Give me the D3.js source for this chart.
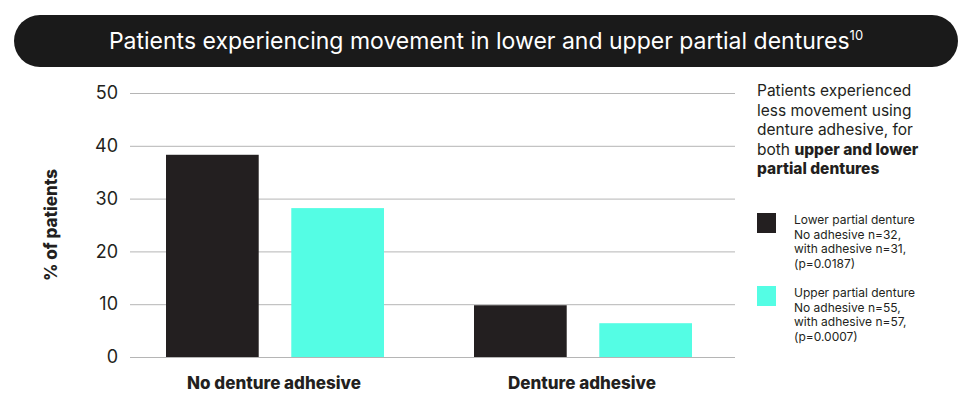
<!DOCTYPE html>
<html><head><meta charset="utf-8">
<script src="https://cdn.jsdelivr.net/npm/d3@7"></script>
<style>body{margin:0;background:#fff}svg{display:block;font-family:Inter,"Noto Sans",sans-serif}</style>
</head><body><svg id="c" width="970" height="416"></svg>
<script>
const categories = ["No denture adhesive", "Denture adhesive"];
const seriesNames = ["Lower partial denture", "Upper partial denture"];
const lowerValues = [38.3, 9.8];
const upperValues = [28.2, 6.4];
const yTicks = [0, 10, 20, 30, 40, 50];
const colors = ["#231f20", "#54fde4"];
const legendText = [
  ["Lower partial denture", "No adhesive n=32,", "with adhesive n=31,", "(p=0.0187)"],
  ["Upper partial denture", "No adhesive n=55,", "with adhesive n=57,", "(p=0.0007)"]
];

const svg = d3.select("#c");
svg.append("rect").attr("x",14).attr("y",15).attr("width",944).attr("height",52).attr("rx",26).attr("fill","#1a1a1a");
const t = svg.append("text").attr("x",486).attr("y",49).attr("text-anchor","middle").attr("fill","#fff").attr("font-size",23);
t.append("tspan").text("Patients experiencing movement in lower and upper partial dentures");
t.append("tspan").attr("font-size",13).attr("dy",-9).text("10");

const y = d3.scaleLinear().domain([0,50]).range([357,93]);
const x0 = d3.scaleBand().domain(categories).range([120,736]);
const x1 = d3.scaleBand().domain(seriesNames).range([46,264]).paddingInner(0.26);

const ya = svg.append("g").attr("transform","translate(130,0)")
  .call(d3.axisLeft(y).tickValues(yTicks).tickSize(-605).tickPadding(12));
ya.select(".domain").remove();
ya.selectAll("line").attr("stroke","#b5b5b5");
ya.selectAll("text").attr("font-size",18).attr("fill","#231f20").attr("font-family","Inter,sans-serif");

const data = categories.map((c,i)=>({c, vals:[lowerValues[i], upperValues[i]]}));
const g = svg.selectAll(".grp").data(data).join("g").attr("transform",d=>`translate(${x0(d.c)},0)`);
g.selectAll("rect").data(d=>d.vals.map((v,j)=>({v,s:seriesNames[j],j}))).join("rect")
  .attr("x",d=>x1(d.s)).attr("width",x1.bandwidth())
  .attr("y",d=>y(d.v)).attr("height",d=>y(0)-y(d.v)).attr("fill",d=>colors[d.j]);

svg.selectAll(".cat").data(categories).join("text")
  .attr("x",d=>x0(d)+x0.bandwidth()/2).attr("y",389).attr("text-anchor","middle")
  .attr("font-size",17).attr("font-weight",800).attr("fill","#231f20").text(d=>d);

svg.append("text").attr("transform","translate(57,225) rotate(-90)").attr("text-anchor","middle")
  .attr("font-size",17).attr("font-weight",800).attr("fill","#231f20").text("% of patients");

const note = svg.append("text").attr("x",757).attr("font-size",15.5).attr("fill","#231f20");
[["Patients experienced",""],["less movement using",""],["denture adhesive, for",""],["both ","upper and lower"],["","partial dentures"]]
.forEach((l,i)=>{
  const ts = note.append("tspan").attr("x",757).attr("y",96+i*19.5);
  ts.append("tspan").text(l[0]);
  if(l[1]) ts.append("tspan").attr("font-weight",800).text(l[1]);
});

legendText.forEach((lines,i)=>{
  const top = 213 + i*73;
  svg.append("rect").attr("x",757).attr("y",top).attr("width",19).attr("height",20).attr("fill",colors[i]);
  lines.forEach((s,k)=>svg.append("text").attr("x",794).attr("y",top+11+k*14.5)
    .attr("font-size",12).attr("fill","#231f20").text(s));
});
</script></body></html>
